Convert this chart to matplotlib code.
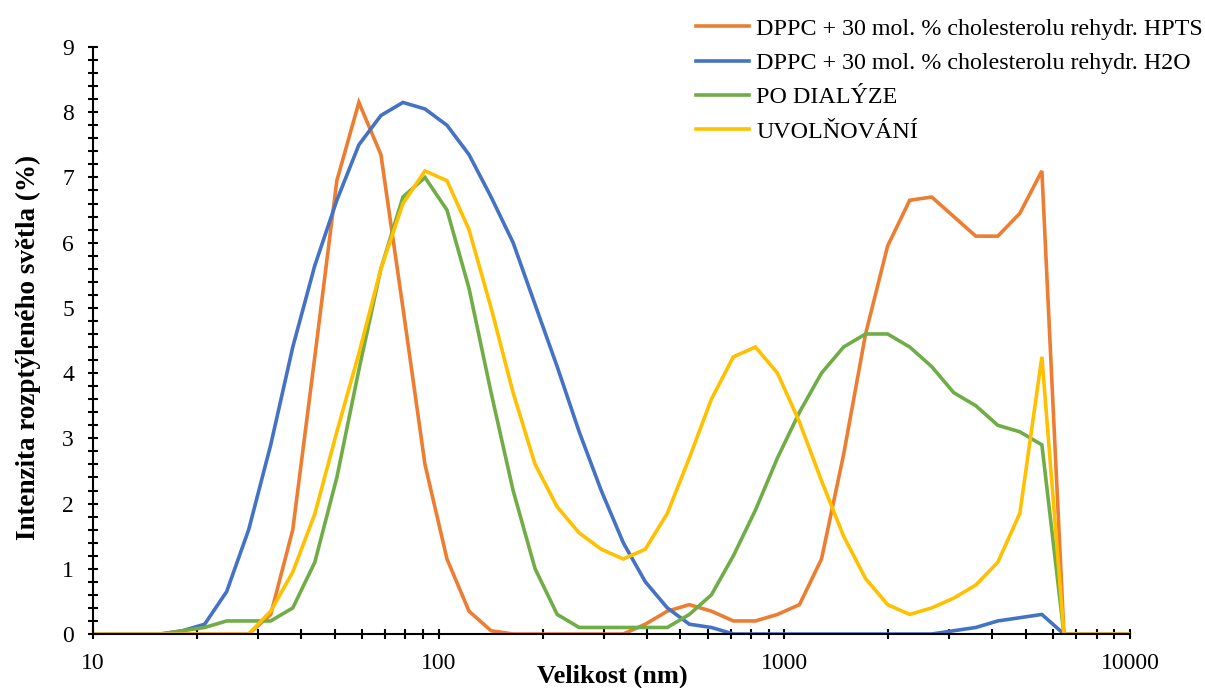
import numpy as np
import matplotlib.pyplot as plt
from matplotlib.ticker import LogLocator, MultipleLocator, FixedLocator, NullFormatter

plt.rcParams['font.family'] = ['Liberation Serif', 'DejaVu Serif']

# velikost (nm) - biny z Zetasizeru
size_nm = [10.1, 11.7, 13.54, 15.69, 18.17, 21.04, 24.36, 28.21, 32.67, 37.84,
           43.82, 50.75, 58.77, 68.06, 78.82, 91.28, 105.7, 122.4, 141.8, 164.2,
           190.1, 220.2, 255.0, 295.3, 342.0, 396.1, 458.7, 531.2, 615.1, 712.4,
           825.0, 955.4, 1106, 1281, 1484, 1718, 1990, 2305, 2669, 3091,
           3580, 4145, 4801, 5560, 6439, 7456, 8635, 10000]

hpts = [0, 0, 0, 0, 0, 0, 0, 0, 0.3, 1.6,
        4.25, 6.95, 8.15, 7.35, 5.0, 2.6, 1.15, 0.35, 0.05, 0,
        0, 0, 0, 0, 0, 0.15, 0.35, 0.45, 0.35, 0.2,
        0.2, 0.3, 0.45, 1.15, 2.75, 4.6, 5.95, 6.65, 6.7, 6.4,
        6.1, 6.1, 6.45, 7.1, 0, 0, 0, 0]

h2o = [0, 0, 0, 0, 0.05, 0.15, 0.65, 1.6, 2.9, 4.4,
       5.65, 6.65, 7.5, 7.95, 8.15, 8.05, 7.8, 7.35, 6.7, 6.0,
       5.05, 4.1, 3.1, 2.2, 1.4, 0.8, 0.4, 0.15, 0.1, 0,
       0, 0, 0, 0, 0, 0, 0, 0, 0, 0.05,
       0.1, 0.2, 0.25, 0.3, 0, 0, 0, 0]

dialyza = [0, 0, 0, 0, 0.05, 0.1, 0.2, 0.2, 0.2, 0.4,
           1.1, 2.4, 4.05, 5.6, 6.7, 7.0, 6.5, 5.3, 3.7, 2.2,
           1.0, 0.3, 0.1, 0.1, 0.1, 0.1, 0.1, 0.3, 0.6, 1.2,
           1.9, 2.7, 3.4, 4.0, 4.4, 4.6, 4.6, 4.4, 4.1, 3.7,
           3.5, 3.2, 3.1, 2.9, 0, 0, 0, 0]

uvolnovani = [0, 0, 0, 0, 0, 0, 0, 0, 0.35, 0.95,
              1.84, 3.1, 4.3, 5.6, 6.6, 7.1, 6.95, 6.2, 5.0, 3.7,
              2.6, 1.95, 1.55, 1.3, 1.15, 1.3, 1.85, 2.7, 3.6, 4.25,
              4.4, 4.0, 3.25, 2.35, 1.5, 0.85, 0.45, 0.3, 0.4, 0.55,
              0.75, 1.1, 1.85, 4.25, 0, 0, 0, 0]

labels = ['DPPC + 30 mol. % cholesterolu rehydr. HPTS',
          'DPPC + 30 mol. % cholesterolu rehydr. H2O',
          'PO DIALÝZE',
          'UVOLŇOVÁNÍ']
colors = ['#ED7D31', '#4472C4', '#70AD47', '#FFC000']

fig = plt.figure(figsize=(12.05, 6.88), dpi=100)
ax = fig.add_axes([93 / 1205, 1 - 634 / 688, (1130 - 93) / 1205, (634 - 47) / 688])

for ys, lab, c in zip([hpts, h2o, dialyza, uvolnovani], labels, colors):
    ax.plot(size_nm, ys, color=c, lw=2.6, label=lab, solid_joinstyle='miter')

ax.set_xscale('log')
ax.set_xlim(10, 10000)
ax.set_ylim(0, 9)
ax.xaxis.set_major_locator(FixedLocator([10, 100, 1000, 10000]))
ax.xaxis.set_major_formatter(plt.FuncFormatter(lambda v, p: '%d' % v))
ax.xaxis.set_minor_locator(LogLocator(base=10, subs=np.arange(2, 10)))
ax.xaxis.set_minor_formatter(NullFormatter())
ax.yaxis.set_major_locator(MultipleLocator(1))
ax.yaxis.set_minor_locator(MultipleLocator(0.2))

for s in ['top', 'right']:
    ax.spines[s].set_visible(False)
for s in ['left', 'bottom']:
    ax.spines[s].set_linewidth(1.5)

ax.tick_params(which='both', direction='inout', width=1.5, length=7.5, labelsize=17)
ax.tick_params(axis='y', which='major', pad=10)
ax.tick_params(axis='x', which='major', pad=10)

ax.set_xlabel('Velikost (nm)', fontsize=19, fontweight='bold')
ax.xaxis.set_label_coords(0.5005, -0.052)
ax.set_ylabel('Intenzita rozptýleného světla (%)', fontsize=19.5, fontweight='bold')
ax.yaxis.set_label_coords(-0.05, 0.489)

fig.legend(loc='upper left', bbox_to_anchor=(696 / 1205, 1 - 18 / 688), frameon=False,
           fontsize=17.3, handlelength=2.2, handletextpad=0.3, labelspacing=0.52,
           borderaxespad=0, borderpad=0)

fig.savefig('out.png', dpi=100)
